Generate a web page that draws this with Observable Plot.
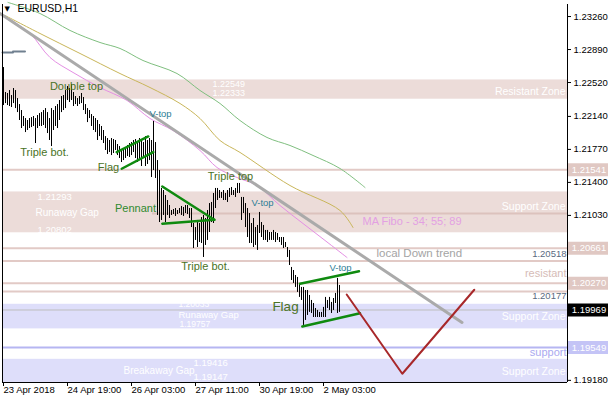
<!DOCTYPE html>
<html><head><meta charset="utf-8">
<script src="https://cdn.jsdelivr.net/npm/d3@7"></script>
<script src="https://cdn.jsdelivr.net/npm/@observablehq/plot@0.6"></script>
<style>body{margin:0;background:#fff} svg{display:block}</style>
</head><body><div id="chart"></div>
<script>
// ---- data ----
const tickLabels = ["23 Apr 2018","24 Apr 19:00","26 Apr 03:00","27 Apr 11:00","30 Apr 19:00","2 May 03:00"];
const tickBars = [0, 32, 64, 96, 128, 160];
const priceTicks = [1.23260,1.22890,1.22520,1.22140,1.21770,1.21400,1.21030,1.19180];

const highs = [1.22688,1.22408,1.22397,1.22430,1.22374,1.22453,1.22430,1.22340,1.22273,1.22206,
 1.22139,1.22116,1.22094,1.22116,1.22127,1.22139,1.22116,1.22150,1.22172,1.22183,
 1.22206,1.22228,1.22183,1.22116,1.22228,1.22206,1.22251,1.22273,1.22318,1.22363,
 1.22374,1.22430,1.22475,1.22453,1.22497,1.22408,1.22363,1.22340,1.22363,1.22397,
 1.22352,1.22273,1.22228,1.22206,1.22161,1.22139,1.22116,1.22094,1.22049,1.22027,
 1.21982,1.21914,1.21892,1.21870,1.21892,1.21881,1.21870,1.21825,1.21802,1.21758,
 1.21769,1.21791,1.21814,1.21836,1.21847,1.21870,1.21881,1.21858,1.21892,1.21870,
 1.21847,1.21914,1.21870,1.21892,1.21870,1.22083,1.21847,1.21645,1.21533,1.21332,
 1.21309,1.21253,1.21197,1.21141,1.21085,1.21096,1.21107,1.21085,1.21107,1.21130,
 1.21119,1.21141,1.21141,1.21107,1.21107,1.20939,1.20894,1.20973,1.20939,1.21006,
 1.21029,1.20995,1.21085,1.21163,1.21175,1.21276,1.21332,1.21332,1.21309,1.21287,
 1.21309,1.21276,1.21309,1.21332,1.21343,1.21309,1.21332,1.21388,1.21388,1.21231,
 1.21231,1.21163,1.21107,1.21051,1.20939,1.20995,1.20894,1.20917,1.21063,1.20950,
 1.20917,1.20861,1.20861,1.20838,1.20838,1.20861,1.20838,1.20827,1.20782,1.20782,
 1.20782,1.20726,1.20670,1.20637,1.20446,1.20412,1.20356,1.20334,1.20267,1.20222,
 1.20222,1.20188,1.20188,1.20132,1.20076,1.20042,1.19986,1.19964,1.19942,1.19942,
 1.19998,1.20110,1.20076,1.20110,1.20054,1.20098,1.20155,1.20323,1.20244];
const lows = [1.22262,1.22284,1.22262,1.22251,1.22240,1.22284,1.22228,1.22183,1.22094,1.22004,
 1.22027,1.21959,1.21982,1.22004,1.22015,1.22027,1.21836,1.22004,1.22027,1.22027,
 1.22038,1.22004,1.21948,1.21870,1.21802,1.21982,1.22027,1.22004,1.22094,1.22183,
 1.22206,1.22228,1.22318,1.22296,1.22318,1.22251,1.22273,1.22251,1.22273,1.22284,
 1.22206,1.22161,1.22071,1.22116,1.22027,1.21982,1.21959,1.21870,1.21914,1.21870,
 1.21836,1.21758,1.21713,1.21735,1.21701,1.21724,1.21758,1.21701,1.21668,1.21623,
 1.21645,1.21668,1.21690,1.21679,1.21701,1.21735,1.21668,1.21623,1.21645,1.21578,
 1.21668,1.21578,1.21601,1.21645,1.21455,1.21533,1.21444,1.21029,1.20950,1.20973,
 1.21029,1.20950,1.21029,1.20995,1.21029,1.21040,1.21018,1.21040,1.21051,1.21029,
 1.21018,1.21051,1.21040,1.20995,1.20894,1.20659,1.20749,1.20670,1.20726,1.20715,
 1.20558,1.20693,1.20749,1.20838,1.20950,1.20939,1.21107,1.21197,1.21220,1.21220,
 1.21197,1.21197,1.21175,1.21231,1.21253,1.21253,1.21231,1.21276,1.21276,1.20973,
 1.21051,1.20894,1.20782,1.20715,1.20715,1.20670,1.20693,1.20637,1.20827,1.20782,
 1.20749,1.20749,1.20726,1.20749,1.20749,1.20749,1.20726,1.20749,1.20726,1.20693,
 1.20659,1.20670,1.20558,1.20468,1.20300,1.20267,1.20222,1.20166,1.20110,1.20076,
 1.19796,1.19852,1.19908,1.19942,1.19930,1.19885,1.19885,1.19885,1.19885,1.19885,
 1.19885,1.19885,1.19986,1.19964,1.19930,1.19964,1.20042,1.19930,1.19942];

// moving averages (bar index, price)
const maGreen = [[2.25,1.23418],[18.25,1.23294],[33.25,1.23104],[48.25,1.22969],[58.25,1.22902],[69.75,1.22767],[86.75,1.22621],[98.25,1.22431],[108.25,1.22285],[118.25,1.22094],[131.75,1.21904],[143.25,1.21814],[154.75,1.21702],[168.25,1.21556],[180.75,1.21343]];
const maOlive = [[0.75,1.23272],[18.25,1.23070],[38.25,1.22846],[58.25,1.22621],[73.25,1.22464],[88.25,1.22285],[98.25,1.22117],[108.25,1.21870],[118.25,1.21736],[143.25,1.21365],[168.25,1.21085],[174.75,1.20894]];
const maPink = [[0,1.23272],[13.25,1.23070],[23.25,1.22801],[34.75,1.22633],[48.25,1.22464],[61.75,1.22319],[73.25,1.22117],[84.75,1.21982],[98.25,1.21758],[106.75,1.21567],[116.75,1.21455],[126.75,1.21365],[138.25,1.21141],[149.75,1.20939],[160.75,1.20749],[171.75,1.20558]];

// drawn objects (bar index, price)
const downTrend = [[-1.75,1.23294],[229.25,1.19829]];
const oldLevel = [[-0.5,1.22857],[4.75,1.22857],[4.75,1.22868],[10.75,1.22868]];
const flag1Upper = [[56.6,1.21739],[72.4,1.21915]];
const flag1Lower = [[59.1,1.21553],[74.9,1.21739]];
const pennantUpper = [[79.4,1.21354],[105.4,1.20981]];
const pennantLower = [[79.4,1.20936],[105.4,1.20981]];
const flag2Upper = [[148.25,1.20263],[177.75,1.20404]];
const flag2Lower = [[149.4,1.19784],[178.25,1.19933]];
const projection = [[171.6,1.20143],[199.4,1.19254],[235.4,1.20196]];

// zones and levels
const pinkZones = [[1.22549,1.22333],[1.21293,1.20835]];
const blueZones = [[1.20033,1.19757],[1.19416,1.19147]];
const pinkLevels = [1.21541,1.20661,1.20518,1.20270,1.20177];
const partialLevel = {from: 74.5, price: 1.21051};
const supportLevel = 1.19549;
const lastPrice = 1.19969;
const pinkTags = [1.21541,1.20661,1.20270];
const blueTags = [1.19549];

// ---- chart ----
const X0 = -0.5, X1 = 282;
const Y0 = 1.19156, Y1 = 1.23395;
const bars = highs.map((h, i) => ({i, high: h, low: lows[i]}));
const tickIdx = tickBars.map(b => b - 0.5);
const labelOf = new Map(tickIdx.map((t, k) => [t, tickLabels[k]]));

const C = {
  pinkBand: "#ecdcd9", pinkLine: "#e2cac6", pinkTag: "#e0c8c3",
  blueBand: "#dedefa", blueLine: "#b6b6f2",
  green: "#0f8a0f", patt: "#4a7326", vtop: "#2b7d96"
};
const F = "Liberation Sans, Arial, sans-serif";
const note = (t, x, y, o = {}) => Plot.text([t], {x, y, text: d => d, fontSize: 11, fill: C.patt, ...o});
const line = (pts, o) => Plot.line(pts, {x: d => d[0], y: d => d[1], ...o});

const chart = Plot.plot({
  width: 610, height: 400,
  marginLeft: 2, marginRight: 43, marginTop: 4, marginBottom: 18,
  x: {domain: [X0, X1], axis: null},
  y: {domain: [Y0, Y1], axis: null},
  style: {fontFamily: F, fontSize: "10px", background: "#fff", overflow: "visible"},
  marks: [
    // zones
    Plot.rect(pinkZones, {x1: X0, x2: X1, y1: d => d[1], y2: d => d[0], fill: C.pinkBand}),
    Plot.rect(blueZones, {x1: X0, x2: X1, y1: d => Math.max(d[1], Y0), y2: d => d[0], fill: C.blueBand}),
    Plot.ruleY(pinkLevels, {x1: X0, x2: X1, stroke: C.pinkLine, strokeWidth: 2}),
    Plot.ruleY([partialLevel], {y: "price", x1: "from", x2: X1, stroke: "#dcc2bd", strokeWidth: 2}),
    Plot.ruleY([supportLevel], {x1: X0, x2: X1, stroke: C.blueLine, strokeWidth: 2}),
    Plot.ruleY([lastPrice], {x1: X0, x2: X1, stroke: "#bdbdbd", strokeWidth: 1}),
    // zone texts
    note("1.22549", 104.5, 1.22505, {fill: "#fff", fontSize: 9, textAnchor: "start"}),
    note("1.22333", 104.5, 1.22405, {fill: "#fff", fontSize: 9, textAnchor: "start"}),
    note("1.21293", 17, 1.21242, {fill: "#fff", fontSize: 9.5, textAnchor: "start"}),
    note("Runaway Gap", 16, 1.21063, {fill: "#fff", fontSize: 10, textAnchor: "start"}),
    note("1.20802", 17, 1.20872, {fill: "#fff", fontSize: 9.5, textAnchor: "start"}),
    note("1.20033", 87.5, 1.20031, {fill: "#fff", fontSize: 8.5, textAnchor: "start"}),
    note("Runaway Gap", 87.5, 1.19919, {fill: "#fff", fontSize: 9.5, textAnchor: "start"}),
    note("1.19757", 88, 1.19807, {fill: "#fff", fontSize: 8.5, textAnchor: "start"}),
    note("1.19416", 95, 1.19380, {fill: "#fff", fontSize: 9.5, textAnchor: "start"}),
    note("Breakaway Gap", 60, 1.19291, {fill: "#fff", fontSize: 10, textAnchor: "start"}),
    note("1.19147", 95, 1.19223, {fill: "#fff", fontSize: 9.5, textAnchor: "start"}),
    note("Resistant Zone", 281, 1.22420, {fill: "#fff", fontSize: 10.5, textAnchor: "end"}),
    note("Support Zone", 281, 1.21130, {fill: "#fff", fontSize: 10.5, textAnchor: "end"}),
    note("Support Zone", 281, 1.19896, {fill: "#fff", fontSize: 10.5, textAnchor: "end"}),
    note("Support Zone", 281, 1.19280, {fill: "#fff", fontSize: 10.5, textAnchor: "end"}),
    note("resistant", 281.5, 1.20379, {fill: "#d6bcb7", fontSize: 11, textAnchor: "end"}),
    note("support", 281.5, 1.19493, {fill: "#aaaaf0", fontSize: 11, textAnchor: "end"}),
    note("1.20518", 281.5, 1.20592, {fill: "#5a6a80", fontSize: 9.5, textAnchor: "end"}),
    note("1.20177", 281.5, 1.20121, {fill: "#5a6a80", fontSize: 9.5, textAnchor: "end"}),
    // moving averages
    line(maGreen, {stroke: "#7fbf7f", strokeWidth: 1, curve: "catmull-rom"}),
    line(maOlive, {stroke: "#c9b65a", strokeWidth: 1, curve: "catmull-rom"}),
    line(maPink, {stroke: "#e48fe4", strokeWidth: 1, curve: "catmull-rom"}),
    line(oldLevel, {stroke: "#708090", strokeWidth: 2}),
    // trend line
    line(downTrend, {stroke: "#aaaaaa", strokeWidth: 3}),
    // price bars
    Plot.ruleX(bars, {x: "i", y1: "low", y2: "high", stroke: "#000", strokeWidth: 1}),
    // patterns
    line(flag1Upper, {stroke: C.green, strokeWidth: 2.5}),
    line(flag1Lower, {stroke: C.green, strokeWidth: 2.5}),
    line(pennantUpper, {stroke: C.green, strokeWidth: 2.5}),
    line(pennantLower, {stroke: C.green, strokeWidth: 2.5}),
    line(flag2Upper, {stroke: C.green, strokeWidth: 2.5}),
    line(flag2Lower, {stroke: C.green, strokeWidth: 2.5}),
    line(projection, {stroke: "#a8282a", strokeWidth: 2}),
    // pattern labels
    note("Double top", 36.5, 1.22476),
    note("Triple bot.", 20.5, 1.21736),
    note("Flag", 52.5, 1.21567),
    note("V-top", 78.5, 1.22173, {fill: C.vtop, fontSize: 9.5}),
    note("Pennant", 66, 1.21108, {fill: "#2f8a2f"}),
    note("Triple top", 113.5, 1.21466),
    note("V-top", 129.5, 1.21164, {fill: C.vtop, fontSize: 9.5}),
    note("Triple bot.", 101, 1.20457),
    note("V-top", 168.5, 1.20446, {fill: C.vtop, fontSize: 9.5}),
    note("Flag", 141, 1.20009, {fontSize: 13.5}),
    note("MA Fibo - 34; 55; 89", 179.5, 1.20962, {fill: "#e3a0e3", fontSize: 11, textAnchor: "start"}),
    note("local Down trend", 186.5, 1.20603, {fill: "#a4a4a4", fontSize: 11.5, textAnchor: "start"}),
    // frame
    Plot.ruleX([X0, X1], {stroke: "#000", strokeWidth: 1}),
    Plot.ruleY([Y0], {stroke: "#000", strokeWidth: 1}),
    // axes
    Plot.axisY(priceTicks, {anchor: "right", tickFormat: d => d.toFixed(5), tickSize: 3, tickPadding: 3, fontSize: 9.5, label: null}),
    Plot.axisX(tickIdx, {anchor: "bottom", tickFormat: d => labelOf.get(d), tickSize: 4, tickPadding: 0, textAnchor: "start", dx: 1, fontSize: 9.5, label: null}),
    // price tags
    Plot.ruleY(pinkTags, {x1: X1 + 0.5, x2: X1 + 20.5, stroke: C.pinkTag, strokeWidth: 13}),
    Plot.ruleY(blueTags, {x1: X1 + 0.5, x2: X1 + 20.5, stroke: "#c4c4f6", strokeWidth: 13}),
    Plot.ruleY([lastPrice], {x1: X1 + 0.5, x2: X1 + 20.5, stroke: "#000", strokeWidth: 13}),
    Plot.text(pinkTags.concat(blueTags, [lastPrice]), {x: X1 + 10.75, y: d => d, text: d => d.toFixed(5), fill: "#fff", fontSize: 9.5}),
    // title
    Plot.text(["\u25BC"], {frameAnchor: "top-left", dx: 2, dy: 2, fontSize: 7, fill: "#000", fontFamily: "DejaVu Sans"}),
    Plot.text(["EURUSD,H1"], {frameAnchor: "top-left", dx: 15, dy: 0, fontSize: 10.5, fill: "#000"})
  ]
});
document.getElementById("chart").append(chart);
</script>
</body></html>
